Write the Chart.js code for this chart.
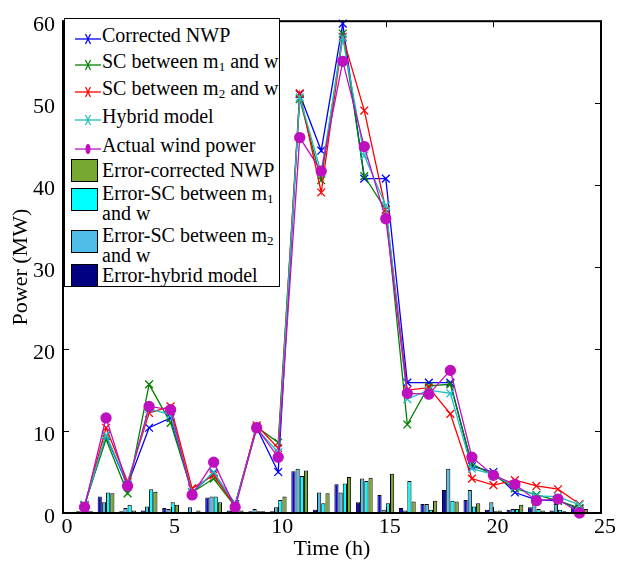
<!DOCTYPE html>
<html>
<head>
<meta charset="utf-8">
<script src="https://cdn.jsdelivr.net/npm/chart.js@4.4.0/dist/chart.umd.min.js"></script>
<style>
  html, body { margin: 0; padding: 0; background: #fff; }
  #wrap { position: relative; width: 618px; height: 563px; }
  #legend {
    position: absolute; left: 64px; top: 18px; width: 214px; height: 267px;
    border: 1px solid #000; background: #fff; overflow: hidden;
    font-family: 'Liberation Serif', 'Times New Roman', serif; font-size: 20px; color: #000;
  }
  #legend .row { position: absolute; left: 37px; height: 22px; line-height: 22px; white-space: nowrap; }
  #legend .sample { position: absolute; left: 10px; width: 26px; height: 14px; }
  #legend .swatch { position: absolute; left: 6px; width: 25px; height: 21px; border: 1px solid #000; }
  #legend sub { font-size: 13px; vertical-align: -3px; line-height: 0; }
</style>
</head>
<body>
<div id="wrap">
  <canvas id="chart" width="618" height="563"></canvas>
  <div id="legend"></div>
</div>
<script>
// Hours of the day
const hours = [1, 2, 3, 4, 5, 6, 7, 8, 9, 10, 11, 12, 13, 14, 15, 16, 17, 18, 19, 20, 21, 22, 23, 24];

// Power forecasts (MW)
const corrNwp = [0.9, 9.4, 3.4, 10.4, 11.6, 2.5, 4.9, 1.1, 10.4, 5.0, 51.1, 44.2, 59.7, 40.8, 40.8, 15.9, 15.9, 15.9, 5.7, 5.0, 2.5, 1.6, 1.5, 0.5];
const scM1 = [1.0, 9.0, 2.4, 15.7, 11.0, 2.5, 4.2, 0.8, 10.5, 8.6, 50.5, 40.6, 58.5, 41.1, 37.0, 10.8, 15.5, 15.7, 6.0, 4.6, 3.0, 2.2, 1.5, 0.6];
const scM2 = [0.9, 10.4, 3.8, 12.2, 13.0, 3.0, 4.6, 0.9, 10.7, 7.9, 51.2, 39.1, 58.1, 49.1, 37.0, 15.0, 15.3, 12.1, 4.2, 3.4, 4.0, 3.3, 2.9, 1.1];
const hybrid = [1.0, 9.5, 3.6, 12.7, 12.0, 2.5, 5.0, 1.0, 10.3, 7.4, 50.7, 41.5, 58.0, 43.6, 37.5, 13.9, 15.0, 14.6, 5.4, 4.7, 3.2, 2.1, 2.0, 1.0];
const actual = [0.7, 11.6, 3.3, 13.0, 12.6, 2.2, 6.2, 0.7, 10.4, 6.8, 45.8, 41.7, 55.1, 44.7, 35.9, 14.6, 14.5, 17.4, 6.8, 4.6, 3.5, 1.5, 1.7, 0.0];

// Absolute errors (MW)
const errHybrid = [0.2, 2.0, 0.2, 0.3, 0.6, 0.1, 1.9, 0.3, 0.2, 0.2, 5.1, 0.4, 3.5, 1.3, 2.2, 0.6, 1.1, 2.8, 1.6, 0.4, 0.4, 0.7, 0.3, 0.7];
const errM2 = [0.2, 1.3, 0.6, 0.8, 0.5, 0.7, 2.0, 0.5, 0.5, 0.7, 5.4, 2.5, 2.5, 4.2, 0.4, 0.3, 1.1, 5.4, 2.8, 1.3, 0.5, 2.4, 1.1, 0.7];
const errM1 = [0.3, 2.5, 1.0, 2.9, 1.3, 0.1, 2.0, 0.5, 0.2, 1.6, 4.5, 1.2, 3.6, 3.9, 1.2, 3.9, 0.4, 1.5, 0.8, 0.2, 0.5, 0.5, 0.4, 0.8];
const errNwp = [0.2, 2.4, 0.3, 2.6, 1.0, 0.3, 1.3, 0.3, 0.2, 2.0, 5.2, 2.4, 4.4, 4.3, 4.8, 1.4, 1.5, 1.4, 1.2, 0.3, 1.0, 0.3, 0.2, 0.5];

// Axis ticks
const xTicks = [0, 5, 10, 15, 20, 25];
const yTicks = [0, 10, 20, 30, 40, 50, 60];

const FONT = "'Liberation Serif', 'Times New Roman', serif";

function pts(values) {
    return values.map((v, i) => ({ x: hours[i], y: v }));
}

function lineSet(label, values, color, order, style) {
    return {
        type: 'line',
        label: label,
        data: pts(values),
        borderColor: color,
        backgroundColor: color,
        borderWidth: 1.3,
        pointStyle: style || 'crossRot',
        pointRadius: style === 'circle' ? 5 : 5.5,
        pointBorderColor: color,
        pointBackgroundColor: color,
        pointBorderWidth: 1.3,
        tension: 0,
        clip: false,
        order: order
    };
}

function barSet(label, values, color) {
    return {
        type: 'bar',
        label: label,
        data: pts(values),
        backgroundColor: color,
        borderColor: '#000',
        borderWidth: 1,
        categoryPercentage: 0.78,
        barPercentage: 1.0,
        order: 10
    };
}

// Frame with inward ticks on all four sides
const framePlugin = {
    id: 'frame',
    afterDatasetsDraw(chart) {
        const { ctx, chartArea: a, scales } = chart;
        ctx.save();
        ctx.strokeStyle = '#000';
        ctx.lineWidth = 2;
        ctx.strokeRect(a.left, a.top, a.right - a.left, a.bottom - a.top);
        ctx.lineWidth = 1;
        ctx.beginPath();
        xTicks.forEach(t => {
            const px = Math.round(scales.x.getPixelForValue(t)) + 0.5;
            ctx.moveTo(px, a.bottom); ctx.lineTo(px, a.bottom - 6);
            ctx.moveTo(px, a.top); ctx.lineTo(px, a.top + 6);
        });
        yTicks.forEach(t => {
            const py = Math.round(scales.y.getPixelForValue(t)) + 0.5;
            ctx.moveTo(a.left, py); ctx.lineTo(a.left + 6, py);
            ctx.moveTo(a.right, py); ctx.lineTo(a.right - 6, py);
        });
        ctx.stroke();
        ctx.restore();
    }
};

const ctx = document.getElementById('chart').getContext('2d');
const chart = new Chart(ctx, {
    type: 'line',
    data: {
        datasets: [
            lineSet('Corrected NWP', corrNwp, '#0000ff', 5),
            lineSet('SC between m1 and w', scM1, '#008000', 4),
            lineSet('SC between m2 and w', scM2, '#ff0000', 3),
            lineSet('Hybrid model', hybrid, '#1fbfbf', 2),
            lineSet('Actual wind power', actual, '#bf10bf', 1, 'circle'),
            barSet('Error-hybrid model', errHybrid, '#0a0ad8'),
            barSet('Error-SC between m2 and w', errM2, '#4fbde8'),
            barSet('Error-SC between m1 and w', errM1, '#00ffff'),
            barSet('Error-corrected NWP', errNwp, '#76a832')
        ]
    },
    options: {
        responsive: false,
        animation: false,
        layout: { padding: { top: 16, right: 17, left: 0, bottom: 0 } },
        plugins: {
            legend: { display: false },
            tooltip: { enabled: false }
        },
        scales: {
            x: {
                type: 'linear',
                min: 0,
                max: 25,
                offset: false,
                grid: { display: false, drawTicks: false },
                border: { display: false },
                afterBuildTicks: scale => { scale.ticks = xTicks.map(v => ({ value: v })); },
                ticks: { color: '#000', font: { family: FONT, size: 22 }, padding: 1, labelOffset: 4, maxRotation: 0 },
                title: { display: true, text: 'Time (h)', color: '#000', font: { family: FONT, size: 22 }, padding: { top: 0, bottom: 1 } },
                afterFit: scale => { scale.height = 50; }
            },
            y: {
                min: 0,
                max: 60,
                grid: { display: false, drawTicks: false },
                border: { display: false },
                afterBuildTicks: scale => { scale.ticks = yTicks.map(v => ({ value: v })); },
                ticks: { color: '#000', font: { family: FONT, size: 22 }, padding: 8, labelOffset: 4 },
                title: { display: true, text: 'Power (MW)', color: '#000', font: { family: FONT, size: 22 }, padding: { top: 8, bottom: 0 } },
                afterFit: scale => { scale.width = 63; }
            }
        }
    },
    plugins: [framePlugin]
});

// Legend box (drawn in HTML so the subscripts stay real text)
const legendLines = [
    { html: 'Corrected NWP', color: '#0000ff', top: 16 },
    { html: 'SC between m<sub>1</sub> and w', color: '#008000', top: 42 },
    { html: 'SC between m<sub>2</sub> and w', color: '#ff0000', top: 69 },
    { html: 'Hybrid model', color: '#1fbfbf', top: 97 },
    { html: 'Actual wind power', color: '#bf10bf', top: 126, dot: true }
];
const legendBars = [
    { lines: ['Error-corrected NWP'], color: '#76a832', top: 151, box: 140 },
    { lines: ['Error-SC between m<sub>1</sub>', 'and w'], color: '#00ffff', top: 174, box: 169 },
    { lines: ['Error-SC between m<sub>2</sub>', 'and w'], color: '#4fbde8', top: 216, box: 211 },
    { lines: ['Error-hybrid model'], color: '#000080', top: 256, box: 245 }
];

const legend = document.getElementById('legend');
legendLines.forEach(item => {
    const marker = item.dot
        ? `<ellipse cx="13" cy="7" rx="2.5" ry="5" fill="${item.color}"/>`
        : `<path d="M10.5 2 L15.5 12 M15.5 2 L10.5 12" stroke="${item.color}" stroke-width="1.2" fill="none"/>`;
    const sample = document.createElement('div');
    sample.className = 'sample';
    sample.style.top = (item.top - 7) + 'px';
    sample.innerHTML = `<svg width="26" height="14"><line x1="0" y1="7" x2="26" y2="7" stroke="${item.color}" stroke-width="1.3"/>${marker}</svg>`;
    legend.appendChild(sample);

    const row = document.createElement('div');
    row.className = 'row';
    row.style.top = (item.top - 11) + 'px';
    row.innerHTML = item.html;
    legend.appendChild(row);
});
legendBars.forEach(item => {
    const sw = document.createElement('div');
    sw.className = 'swatch';
    sw.style.top = item.box + 'px';
    sw.style.background = item.color;
    legend.appendChild(sw);

    item.lines.forEach((text, i) => {
        const row = document.createElement('div');
        row.className = 'row';
        row.style.top = (item.top - 11 + i * 20) + 'px';
        row.innerHTML = text;
        legend.appendChild(row);
    });
});
</script>
</body>
</html>
